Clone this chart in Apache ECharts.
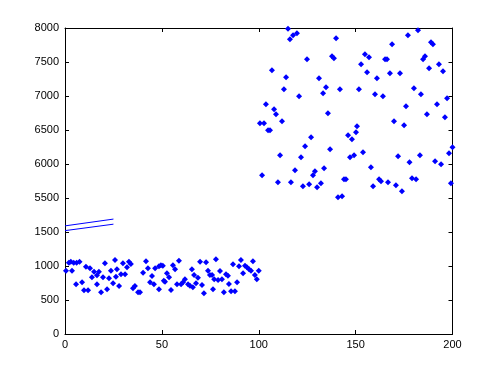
<!DOCTYPE html>
<html><head><meta charset="utf-8">
<script src="https://cdn.jsdelivr.net/npm/echarts@6/dist/echarts.min.js"></script>
<style>html,body{margin:0;padding:0;background:#fff}#c{width:500px;height:375px}</style>
</head><body><div id="c"></div>
<script>
// Lower block (x 1..100)
var lowX = [0.5,2,3,3.6,4.5,5.7,6,7.5,8.8,9.8,10.8,11.9,12.9,13.9,15,16.5,16.5,17.5,18.6,19.6,20.6,21.7,22.7,23.7,24.8,25.8,26.3,26.8,27.9,28.9,29.9,31,32,33,34,35.1,36.1,37.7,38.7,40.3,41.8,42.8,43.9,44.9,45.9,46.5,48.5,48.5,49.5,50.5,51,51.6,52.6,53.7,54.7,55.7,56.8,57.8,58.8,59.9,60.9,61.9,63.5,64.5,65.5,66,66.6,67.6,68.6,69.7,70.7,71.7,72.8,73.8,74.8,75.9,76.4,77,77.9,79,80,81,82,83.1,84.1,84.6,85.7,86.7,87.7,88.8,89.8,90.8,91.9,92.9,93.9,95,96,97,98,99,100];
var lowY = [931,1048,1063,931,1048,731,1048,1063,760,642,990,642,966,834,916,863,731,916,613,834,1040,657,819,931,746,1088,843,951,706,878,1040,878,981,1063,1029,672,706,613,613,901,1069,966,760,853,731,966,995,657,1010,1004,784,769,893,834,647,1010,951,731,1078,731,760,804,731,710,951,687,868,746,828,1063,721,598,1054,931,868,868,657,804,1098,794,927,804,613,878,858,735,628,1025,628,760,995,1088,893,1004,981,951,931,1069,868,804,931];
// Upper block (x 101..200), real values
var highX = [100.6,101.7,102.7,103.7,104.8,105.8,106.8,107.9,108.9,109.9,111,112,113,114.1,115.1,116.1,116.6,117.7,118.7,119.7,120.8,121.8,122.8,123.9,124.9,126,127,128,129,130.1,131.1,132.1,133.2,133.7,134.7,135.7,136.8,137.8,138.8,139.9,140.9,141.9,143,144,145,146.1,147.1,148.1,149.2,150.2,150.7,151.7,152.8,153.8,154.8,155.9,156.9,157.9,159,160,161,162.1,163.1,164.1,165.2,166.2,166.7,167.7,168.8,169.8,170.8,171.9,172.9,173.9,175,176,177,177.8,179.1,180.1,181.2,182.2,183.2,183.7,184.8,185.8,186.8,187.9,188.9,189.9,191,192,193,194.1,195.1,196.1,197.2,198.2,199.2,200];
var highY = [6599,5834,6599,6878,6496,6496,7378,6804,6731,5731,6128,6628,7099,7275,7990,7834,5731,7893,5907,7922,6996,6099,5672,6260,7540,5701,6393,5834,5893,5657,7260,5716,7040,5937,7128,6746,6216,7584,7555,7848,5510,7099,5525,5775,5775,6422,6099,6363,6128,6466,6554,7099,7466,6172,7613,7349,7569,5951,5672,7025,7260,5775,5746,6996,7540,7540,5731,7334,7760,6628,5687,6113,7334,5599,6569,6849,7893,6025,5790,7113,5775,7966,6128,7025,7540,7584,6731,7407,7790,7760,6040,6878,7466,5996,7363,6687,6966,6157,5716,6246];
// Axis break: values above the break are shifted down by this amount
var breakShift = 3500;
var xTicks = [0,50,100,150,200];
var yTickLabels = [0,500,1000,1500,5500,6000,6500,7000,7500,8000];
// Break marker lines (in plotted coordinates)
var breakLine1 = [[0,1590],[25,1690]];
var breakLine2 = [[0,1520],[25,1615]];

var lowData = lowX.map(function(x,i){return [x, lowY[i]];});
var highData = highX.map(function(x,i){return [x, highY[i]-breakShift];});

var chart = echarts.init(document.getElementById('c'), null, {renderer:'canvas'});
var font = 'Liberation Sans, Arial, sans-serif';
var tickCommon = {show:true, inside:true, length:4, lineStyle:{color:'#000'}};
var lineCommon = {show:true, onZero:false, lineStyle:{color:'#000', width:1}};
chart.setOption({
  backgroundColor:'#fff',
  animation:false,
  grid:{left:65, right:47.5, top:28, bottom:41, containLabel:false},
  xAxis:[
    {type:'value', min:0, max:200, interval:50, position:'bottom',
     axisLine:lineCommon, axisTick:tickCommon, splitLine:{show:false},
     axisLabel:{color:'#000', fontFamily:font, fontSize:11, margin:5}},
    {type:'value', min:0, max:200, interval:50, position:'top',
     axisLine:lineCommon, axisTick:tickCommon, splitLine:{show:false},
     axisLabel:{show:false}}
  ],
  yAxis:[
    {type:'value', min:0, max:4500, interval:500, position:'left',
     axisLine:lineCommon, axisTick:tickCommon, splitLine:{show:false},
     axisLabel:{color:'#000', fontFamily:font, fontSize:11, margin:6,
       formatter:function(v){ var i = Math.round(v/500); return String(yTickLabels[i]); }}},
    {type:'value', min:0, max:4500, interval:500, position:'right',
     axisLine:lineCommon, axisTick:tickCommon, splitLine:{show:false},
     axisLabel:{show:false}}
  ],
  series:[
    {type:'scatter', data:lowData, symbol:'diamond', symbolSize:6,
     itemStyle:{color:'#0000ff', opacity:1}},
    {type:'scatter', data:highData, symbol:'diamond', symbolSize:6,
     itemStyle:{color:'#0000ff', opacity:1}},
    {type:'line', data:breakLine1, symbol:'none', lineStyle:{color:'#0000ff', width:1}},
    {type:'line', data:breakLine2, symbol:'none', lineStyle:{color:'#0000ff', width:1}}
  ]
});
</script></body></html>
